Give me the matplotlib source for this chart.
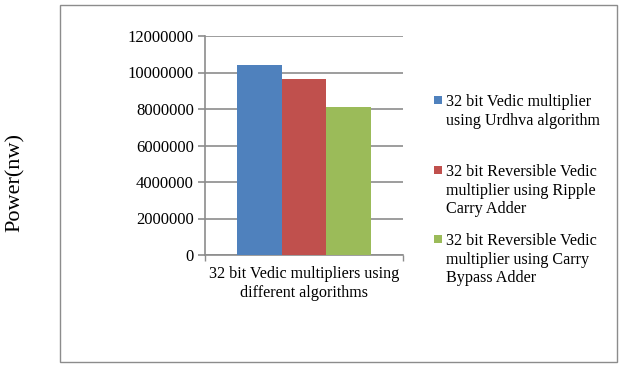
import matplotlib.pyplot as plt
import matplotlib.patches as patches
import numpy as np

plt.rcParams['font.family'] = ['Liberation Serif', 'DejaVu Serif']

category = "32 bit Vedic multipliers using\ndifferent algorithms"
series = ["32 bit Vedic multiplier\nusing Urdhva algorithm",
          "32 bit Reversible Vedic\nmultiplier using Ripple\nCarry Adder",
          "32 bit Reversible Vedic\nmultiplier using Carry\nBypass Adder"]
power = [10410000, 9630000, 8100000]
colors = ["#4F81BD", "#C0504D", "#9BBB59"]
yticks = [0, 2000000, 4000000, 6000000, 8000000, 10000000, 12000000]

fig = plt.figure(figsize=(6.2, 3.67), dpi=100)
ax = fig.add_axes([205/620, 1 - 255/367, 198/620, 219/367])

grid_c = "#8c8c8c"
w = 0.224
for i, (lab, val, c) in enumerate(zip(series, power, colors)):
    ax.bar((i - 1) * w, val, width=w, color=c, label=lab, zorder=3)

ax.set_xlim(-0.5, 0.5)
ax.set_ylim(0, 12000000)
ax.set_yticks(yticks)
ax.set_yticklabels([str(t) for t in yticks], fontsize=12)
ax.set_xticks([0])
ax.set_xticklabels([category], fontsize=11.6, linespacing=1.2)
ax.tick_params(axis='x', length=0, pad=8)
ax.set_xticks([-0.5, 0.5], minor=True)
ax.tick_params(axis='x', which='minor', length=4, color=grid_c, width=1)
ax.tick_params(axis='y', length=5, color=grid_c, width=1.2, pad=3)
ax.yaxis.grid(True, color=grid_c, linewidth=1.2, zorder=0)
ax.set_axisbelow(True)
for s in ["top", "right"]:
    ax.spines[s].set_visible(False)
ax.spines["left"].set_color(grid_c)
ax.spines["bottom"].set_color(grid_c)
ax.spines["left"].set_linewidth(1.2)
ax.spines["bottom"].set_linewidth(1.2)

fig.text(15/620, 1 - 182/367, "Power(nw)", rotation=90, va='center', ha='center', fontsize=16)

# legend drawn by hand so each square sits on the first line of its label
leg_top = [94, 164, 233]
for lab, c, yt in zip(series, colors, leg_top):
    fig.text(446/620, 1 - yt/367, lab, ha='left', va='top', fontsize=11.6, linespacing=1.22)
    fig.add_artist(patches.Rectangle((434/620, 1 - (yt + 10)/367), 8/620, 8/367,
                                     transform=fig.transFigure, facecolor=c, edgecolor='none'))

fig.add_artist(patches.Rectangle((60/620, 1 - 362/367), 557/620, 357/367,
                                 transform=fig.transFigure, fill=False,
                                 edgecolor="#8c8c8c", linewidth=1))

plt.savefig("out.png", dpi=100)
